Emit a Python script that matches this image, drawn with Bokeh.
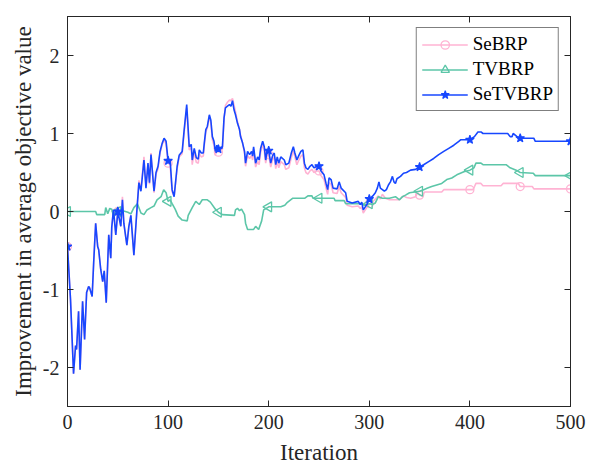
import numpy as np
from bokeh.plotting import figure
from bokeh.models import Range1d, LinearAxis, FixedTicker, Legend, LegendItem
from bokeh.embed import file_html
from bokeh.resources import INLINE

# ---------------- data ----------------
series_names = ["SeBRP", "TVBRP", "SeTVBRP"]

iter_setvbrp = [0, 3, 6, 8, 9, 11, 12.5, 15, 17, 19, 21, 22, 24.5, 26, 28, 30, 31, 33, 35, 36.5,
                38.5, 41, 43, 44, 45.7, 48, 50, 53, 54.6, 56, 59, 61, 63, 66, 69, 71, 73, 76, 78, 80,
                81.5, 83, 86, 88, 90, 92, 94, 96, 98, 100, 102, 104, 106, 109, 111, 114, 116, 118.5,
                121, 123, 124, 126, 128, 130, 131, 133, 135, 136, 137.5, 139, 141, 142.5, 144, 145.6,
                147, 148.5, 150, 152, 154, 155.6, 157, 159, 161, 162.5, 164, 165.6, 167, 169, 171, 172,
                174, 176, 177, 179, 181, 183, 184, 185, 187, 189, 190.5, 192, 194, 195.6, 197, 198.6,
                200, 202, 204, 205.5, 207, 208.5, 210, 212, 215.5, 217, 220, 222.5, 224.5, 226, 228,
                230, 232, 234, 235.5, 237, 239, 241, 243, 245, 248, 250, 252, 255, 257, 258.6, 260,
                262, 264, 268, 270, 272, 276.5, 278, 283, 289, 291, 292.5, 294, 296, 298, 300, 303.5,
                306, 308, 309.6, 311, 313, 315, 317, 319, 321, 323, 324.5, 326, 327.5, 331, 334, 337,
                341, 346, 350, 354, 359, 364, 369, 374, 379, 384, 389, 391, 400, 404.5, 408, 411, 413,
                437.6, 440, 442, 443, 446, 448, 450, 463.5, 465, 500]
val_setvbrp = [-0.45, -1.13, -2.08, -1.72, -1.77, -1.28, -2.03, -1.15, -1.64, -1.04, -0.96, -0.98,
               -1.09, -0.66, -0.15, -0.45, -0.49, -0.74, -0.9, -0.76, -1.17, -0.3, -0.6, -0.2, 0.02,
               -0.3, 0.0, -0.19, 0.15, -0.15, -0.43, -0.19, -0.05, -0.56, 0.02, 0.37, 0.26, 0.66, 0.3,
               0.62, 0.37, 0.73, 0.26, 0.5, 0.58, 0.77, 0.87, 0.94, 0.9, 0.65, 0.66, 0.28, 0.19, 0.58,
               0.72, 0.77, 1.05, 1.37, 0.83, 0.86, 0.66, 0.81, 0.69, 0.67, 0.79, 0.75, 0.75, 0.88,
               1.05, 1.09, 1.24, 1.17, 0.96, 0.9, 0.77, 0.85, 0.8, 0.82, 0.83, 1.2, 1.33, 1.35, 1.37,
               1.35, 1.42, 1.3, 1.24, 1.13, 1.05, 0.96, 0.88, 0.77, 0.62, 0.77, 0.73, 0.77, 0.71,
               0.83, 0.62, 0.7, 0.66, 0.81, 0.9, 0.83, 0.66, 0.79, 0.78, 0.62, 0.72, 0.75, 0.6, 0.7,
               0.62, 0.7, 0.66, 0.6, 0.62, 0.75, 0.83, 0.75, 0.66, 0.72, 0.77, 0.79, 0.62, 0.56, 0.54,
               0.58, 0.6, 0.56, 0.58, 0.58, 0.52, 0.47, 0.36, 0.28, 0.43, 0.41, 0.3, 0.29, 0.38, 0.3,
               0.24, 0.13, 0.11, 0.13, 0.09, 0.12, 0.02, 0.06, 0.1, 0.16, 0.2, 0.24, 0.3, 0.38, 0.3,
               0.28, 0.26, 0.28, 0.34, 0.38, 0.45, 0.38, 0.36, 0.42, 0.45, 0.49, 0.5, 0.53, 0.54,
               0.57, 0.6, 0.64, 0.68, 0.73, 0.77, 0.81, 0.85, 0.9, 0.92, 0.92, 0.96, 1.02, 1.02, 1.0,
               1.0, 0.96, 0.96, 1.0, 0.97, 0.94, 0.94, 0.94, 0.9, 0.9]

iter_sebrp = [0, 3, 6, 8, 9, 11, 12.5, 15, 17, 19, 21, 22, 24.5, 26, 28, 30, 31, 33, 35, 36.5,
              38.5, 41, 43, 44, 45.7, 48, 50, 53, 54.6, 56, 59, 61, 63, 66, 69, 71, 73, 76, 78, 80,
              81.5, 83, 86, 88, 90, 92, 94, 96, 98, 100, 102, 104, 106, 109, 111, 114, 116, 118.5,
              121, 123, 124, 126, 128, 130, 131, 133, 135, 136, 137.5, 139, 141, 142.5, 144, 145.6,
              147, 148.5, 150, 152, 154, 155.6, 157, 159, 161, 162.5, 164, 165.6, 167, 169, 171, 172,
              174, 176, 177, 179, 181, 183, 184, 185, 187, 189, 190.5, 192, 194, 195.6, 197, 198.6,
              200, 202, 204, 205.5, 207, 208.5, 210, 212, 215.5, 217, 220, 222.5, 224.5, 226, 228,
              230, 232, 234, 235.5, 237, 239, 241, 243, 245, 248, 250, 252, 255, 257, 258.6, 260,
              262, 264, 268, 270, 272, 276.5, 278, 283, 289, 291, 292.5, 294, 296, 298, 300, 303,
              306, 309, 311, 313, 316, 320, 330, 334, 337, 341, 346, 348, 350, 353, 355, 372, 374,
              400, 403, 404.6, 406, 411, 413, 431, 433, 448, 450, 462, 463.6, 500]
val_sebrp = [-0.45, -1.13, -2.08, -1.72, -1.77, -1.28, -2.03, -1.15, -1.64, -1.04, -0.96, -0.98,
             -1.09, -0.66, -0.15, -0.45, -0.49, -0.74, -0.9, -0.76, -1.17, -0.3, -0.6, -0.2, 0.02,
             -0.3, 0.0, -0.19, 0.19, -0.15, -0.43, -0.19, -0.05, -0.56, 0.02, 0.4, 0.28, 0.7, 0.33,
             0.6, 0.35, 0.75, 0.24, 0.48, 0.55, 0.75, 0.85, 0.93, 0.86, 0.62, 0.6, 0.25, 0.2, 0.55,
             0.7, 0.74, 1.02, 1.33, 0.79, 0.82, 0.6, 0.77, 0.63, 0.62, 0.74, 0.7, 0.71, 0.85, 1.02,
             1.07, 1.22, 1.13, 0.92, 0.85, 0.72, 0.8, 0.76, 0.78, 0.8, 1.18, 1.36, 1.4, 1.43, 1.42,
             1.45, 1.36, 1.28, 1.15, 1.05, 0.98, 0.88, 0.74, 0.58, 0.72, 0.68, 0.72, 0.66, 0.8,
             0.57, 0.64, 0.6, 0.76, 0.86, 0.78, 0.62, 0.74, 0.73, 0.57, 0.67, 0.7, 0.55, 0.64, 0.56,
             0.64, 0.6, 0.54, 0.56, 0.69, 0.78, 0.7, 0.6, 0.66, 0.71, 0.73, 0.56, 0.5, 0.48, 0.52,
             0.54, 0.5, 0.52, 0.52, 0.46, 0.41, 0.3, 0.22, 0.37, 0.35, 0.24, 0.23, 0.32, 0.24, 0.18,
             0.08, 0.06, 0.07, 0.04, 0.06, -0.02, 0.02, 0.06, 0.1, 0.12, 0.16, 0.2, 0.16, 0.22,
             0.17, 0.15, 0.15, 0.2, 0.18, 0.17, 0.19, 0.24, 0.21, 0.2, 0.25, 0.25, 0.28, 0.28, 0.28,
             0.32, 0.36, 0.36, 0.33, 0.33, 0.36, 0.36, 0.32, 0.32, 0.29, 0.29]

iter_tvbrp = [0, 28, 29, 37, 38, 40, 42, 44, 46, 48, 50, 55, 60, 63, 66, 69.5, 73, 76, 79, 83, 86,
              89, 93, 95.6, 98, 100, 102, 104, 107, 110, 114, 119, 120, 124, 127.5, 131, 134, 139,
              142, 147, 150, 154, 166, 167, 169, 171, 173, 176, 177, 179, 185, 187, 190, 193, 195,
              200, 212, 216, 218, 224, 236, 239, 243, 244, 250, 265, 266, 275, 276.5, 293, 295, 300,
              303, 306, 309, 313, 320, 326, 330, 333, 336, 340, 350, 354, 358, 362, 367, 372, 377,
              382, 387, 394, 400, 404, 406, 411, 413, 436, 440, 446, 450, 463, 465, 500]
val_tvbrp = [0.0, 0.0, -0.04, -0.04, 0.05, -0.03, 0.04, 0.03, -0.08, 0.0, 0.0, 0.01, -0.01, -0.03,
             0.05, 0.1, -0.02, -0.04, 0.02, 0.05, 0.07, 0.15, 0.19, 0.28, 0.24, 0.13, 0.15, 0.1,
             0.03, -0.06, -0.11, -0.12, -0.05, 0.05, 0.13, 0.09, 0.15, 0.15, 0.12, 0.03, -0.01,
             -0.04, -0.05, 0.02, 0.04, 0.01, 0.03, -0.04, -0.15, -0.23, -0.23, -0.19, -0.23, -0.12,
             0.02, 0.06, 0.06, 0.08, 0.11, 0.17, 0.17, 0.2, 0.2, 0.17, 0.17, 0.17, 0.14, 0.14, 0.1,
             0.1, 0.08, 0.1, 0.09, 0.11, 0.19, 0.17, 0.17, 0.19, 0.15, 0.19, 0.21, 0.24, 0.26, 0.28,
             0.3, 0.32, 0.34, 0.36, 0.41, 0.43, 0.47, 0.51, 0.53, 0.56, 0.62, 0.62, 0.6, 0.6, 0.56,
             0.53, 0.5, 0.49, 0.46, 0.46]

marker_every = 50
x_ticks = [0, 100, 200, 300, 400, 500]
x_tick_labels = ["0", "100", "200", "300", "400", "500"]
y_ticks = [-2, -1, 0, 1, 2]
y_tick_labels = ["-2", "-1", "0", "1", "2"]

# ---------------- styling ----------------
FONT = "Liberation Serif"
AX = "#262626"
colors = {"SeBRP": "#FFB3D3", "TVBRP": "#5CC6A8", "SeTVBRP": "#1747FF"}

p = figure(width=593, height=471, output_backend="svg", toolbar_location=None,
           x_range=Range1d(0, 500), y_range=Range1d(-2.5, 2.5),
           min_border_left=67, min_border_right=23, min_border_top=16, min_border_bottom=65,
           x_axis_label="Iteration", y_axis_label="Improvement in average objective value")
p.grid.visible = False
p.outline_line_color = AX
p.outline_line_width = 1
p.background_fill_color = "white"
p.border_fill_color = "white"

bottom_ax = p.below[0]
left_ax = p.left[0]
bottom_ax.ticker = FixedTicker(ticks=x_ticks)
left_ax.ticker = FixedTicker(ticks=y_ticks)
bottom_ax.major_label_overrides = {t: s for t, s in zip(x_ticks, x_tick_labels)}
left_ax.major_label_overrides = {t: s for t, s in zip(y_ticks, y_tick_labels)}

top_ax = LinearAxis(ticker=FixedTicker(ticks=x_ticks), major_label_text_font_size="1px",
                    major_label_text_color=None, major_label_standoff=0)
right_ax = LinearAxis(ticker=FixedTicker(ticks=y_ticks), major_label_text_font_size="1px",
                      major_label_text_color=None, major_label_standoff=0)
p.add_layout(top_ax, "above")
p.add_layout(right_ax, "right")

for ax in [bottom_ax, left_ax, top_ax, right_ax]:
    ax.major_tick_in = 6
    ax.major_tick_out = 0
    ax.minor_tick_line_color = None
    ax.axis_line_color = AX
    ax.major_tick_line_color = AX
    ax.axis_line_width = 1
for ax in [bottom_ax, left_ax]:
    ax.major_label_text_font = FONT
    ax.major_label_text_font_size = "20px"
    ax.major_label_text_color = AX
    ax.major_label_standoff = 8
    ax.axis_label_text_font = FONT
    ax.axis_label_text_font_size = "23px"
    ax.axis_label_text_font_style = "normal"
    ax.axis_label_text_color = AX
    ax.axis_label_standoff = 4
bottom_ax.axis_label_standoff = 8

data = {
    "SeBRP": (iter_sebrp, val_sebrp),
    "TVBRP": (iter_tvbrp, val_tvbrp),
    "SeTVBRP": (iter_setvbrp, val_setvbrp),
}

items = []
for name in series_names:
    xs = np.array(data[name][0], dtype=float)
    ys = np.array(data[name][1], dtype=float)
    c = colors[name]
    ln = p.line(xs, ys, line_color=c, line_width=1.6)
    m = (xs % marker_every) == 0
    if name == "SeBRP":
        sc = p.scatter(xs[m], ys[m], marker="circle", size=8, line_color=c, line_width=1.3,
                       fill_alpha=0)
    elif name == "TVBRP":
        sc = p.scatter(xs[m], ys[m], marker="triangle", angle=np.pi / 2, size=10, line_color=c,
                       line_width=1.3, fill_alpha=0)
    else:
        sc = p.scatter(xs[m], ys[m], marker="star", size=9, line_color=c, line_width=1.2,
                       fill_color=c)
    items.append(LegendItem(label=name, renderers=[ln, sc]))

legend = Legend(items=items, location="top_right")
legend.margin = 11
legend.padding = 5
legend.spacing = 3
legend.glyph_width = 46
legend.glyph_height = 21
legend.label_height = 21
legend.label_standoff = 5
legend.label_text_font = FONT
legend.label_text_font_size = "19px"
legend.label_text_color = "black"
legend.border_line_color = "black"
legend.border_line_width = 1
legend.background_fill_color = "white"
legend.background_fill_alpha = 1
p.add_layout(legend)

open("out.html", "w").write(file_html(p, INLINE))
